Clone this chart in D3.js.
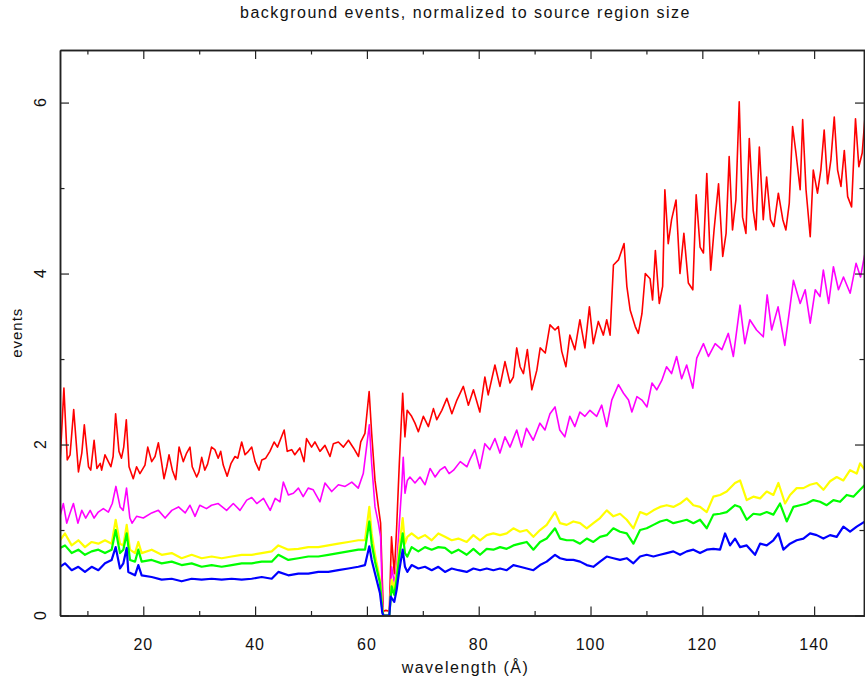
<!DOCTYPE html>
<html>
<head>
<meta charset="utf-8">
<script src="https://cdn.jsdelivr.net/npm/d3@7"></script>
<style>
	body { margin: 0; background: #fff; }
	text { font-family: "Liberation Sans", "DejaVu Sans", sans-serif; fill: #111; }
</style>
</head>
<body>
<div id="container"></div>
<script>
// values: [wavelength, events]
var redSeries = [[5.1,1.78],[5.8,2.66],[6.4,1.82],[6.9,1.88],[7.55,2.41],[8.4,1.68],[9.0,1.90],[9.45,2.23],[10.2,1.74],[10.6,1.70],[11.2,2.05],[11.7,1.72],[12.3,1.78],[12.55,1.70],[13.15,1.88],[13.75,1.80],[14.2,1.74],[14.6,1.86],[15.05,2.36],[15.65,1.92],[16.1,1.84],[16.5,1.97],[16.96,2.29],[17.45,1.74],[18.2,1.60],[18.8,1.74],[19.4,1.66],[20.3,1.76],[20.8,1.97],[21.5,1.80],[22.1,1.86],[22.7,2.02],[23.2,1.82],[23.7,1.60],[24.2,1.74],[24.6,1.88],[25.2,1.70],[25.8,1.59],[26.4,1.97],[27.15,1.80],[27.75,1.90],[28.35,1.97],[28.75,1.74],[29.55,1.62],[29.95,1.68],[30.45,1.85],[31.0,1.70],[31.5,1.77],[32.2,1.97],[32.8,1.94],[33.4,1.84],[33.85,1.92],[34.3,1.76],[35.0,1.63],[35.7,1.78],[36.4,1.86],[36.9,1.84],[37.6,2.03],[38.2,1.88],[38.8,1.92],[39.4,1.97],[40.0,1.80],[40.7,1.70],[41.2,1.82],[41.9,1.84],[42.65,1.92],[43.4,2.03],[44.0,1.97],[45.2,2.17],[45.75,1.92],[46.55,1.94],[47.1,1.88],[48.0,1.96],[48.75,1.80],[49.2,2.07],[50.1,1.97],[50.7,2.03],[51.6,1.92],[52.5,1.99],[53.4,1.86],[54.0,2.01],[54.9,2.03],[55.8,1.97],[56.7,2.05],[57.6,1.96],[58.5,1.86],[58.9,2.03],[59.65,2.13],[60.4,2.62],[60.85,2.13],[61.45,1.58],[62.05,1.27],[62.45,1.08],[62.75,0.42],[62.94,0.05],[63.4,0.06],[64.0,0.05],[64.4,0.92],[64.9,0.49],[65.3,1.0],[65.8,1.78],[66.4,2.60],[66.8,2.09],[67.2,2.40],[68.0,2.33],[68.6,2.25],[69.2,2.15],[70.1,2.33],[71.0,2.21],[71.9,2.42],[72.5,2.29],[73.4,2.40],[74.3,2.54],[75.2,2.36],[76.1,2.52],[77.25,2.68],[78.15,2.46],[79.05,2.64],[80.2,2.38],[81.1,2.79],[81.7,2.58],[82.9,2.93],[83.8,2.68],[84.7,2.97],[85.6,2.72],[86.2,2.79],[86.8,3.13],[87.4,2.91],[88.0,2.83],[88.7,3.11],[89.5,2.64],[90.4,2.87],[91.0,3.13],[91.9,3.07],[92.75,3.40],[93.65,3.34],[94.25,3.38],[94.85,3.09],[95.6,2.91],[96.3,3.28],[97.2,3.11],[98.1,3.46],[99.0,3.13],[99.8,3.61],[100.5,3.18],[101.4,3.44],[102.3,3.28],[102.9,3.46],[103.5,3.28],[104.1,4.10],[105.0,4.16],[106.0,4.35],[106.5,3.85],[107.1,3.57],[108.0,3.38],[108.55,3.30],[109.2,3.53],[109.8,4.00],[110.65,3.94],[111.1,3.69],[111.6,4.27],[112.3,3.65],[112.9,3.85],[113.3,4.98],[113.9,4.35],[114.5,4.63],[115.3,4.86],[116.0,4.00],[116.7,4.47],[117.5,3.89],[118.3,3.81],[118.9,4.92],[119.6,4.31],[120.2,4.24],[120.8,5.17],[121.5,4.04],[122.1,4.51],[122.9,5.05],[123.65,4.20],[124.25,4.47],[124.8,5.37],[125.4,4.51],[126.0,4.86],[126.6,6.01],[127.2,4.66],[127.8,4.47],[128.4,5.58],[129.1,4.74],[129.6,4.51],[130.2,5.48],[130.9,4.63],[131.5,5.13],[132.2,4.63],[132.8,4.55],[133.6,4.94],[134.4,4.63],[134.95,4.51],[135.55,4.82],[136.15,5.72],[136.75,5.41],[137.5,4.98],[137.95,5.80],[138.55,4.98],[139.3,4.43],[139.85,5.21],[140.6,4.94],[141.2,5.21],[141.8,5.68],[142.4,5.05],[143.0,5.33],[143.6,5.83],[144.2,5.21],[144.8,5.02],[145.4,5.44],[146.0,4.90],[146.7,4.78],[147.4,5.81],[148.0,5.25],[148.6,5.41],[149.1,5.83]];

var magentaSeries = [[5.1,1.16],[5.7,1.31],[6.3,1.08],[6.9,1.20],[7.5,1.31],[8.3,1.08],[9.0,1.23],[9.7,1.14],[10.5,1.23],[11.2,1.14],[11.95,1.21],[12.85,1.25],[13.75,1.21],[14.45,1.31],[15.1,1.51],[15.85,1.27],[16.4,1.23],[17.0,1.49],[17.6,1.14],[18.0,1.08],[18.8,1.16],[20.0,1.14],[21.5,1.20],[22.7,1.23],[23.9,1.14],[25.1,1.23],[26.3,1.27],[27.5,1.20],[28.35,1.29],[29.25,1.16],[30.1,1.29],[31.3,1.25],[32.2,1.29],[33.4,1.31],[34.9,1.23],[36.1,1.31],[37.3,1.23],[38.5,1.35],[39.4,1.38],[40.3,1.31],[41.5,1.37],[42.7,1.23],[43.6,1.37],[44.45,1.33],[45.05,1.56],[45.95,1.41],[46.85,1.43],[47.75,1.49],[48.6,1.39],[49.5,1.49],[50.4,1.47],[51.6,1.33],[52.5,1.55],[53.7,1.45],[54.9,1.53],[56.1,1.51],[57.3,1.56],[58.45,1.49],[59.35,1.66],[60.43,2.23],[60.85,1.78],[61.45,1.27],[62.05,1.08],[62.45,0.92],[62.76,0.22],[62.94,0],[64.01,0],[64.43,0.57],[64.9,0.38],[65.32,0.57],[65.8,1.08],[66.2,1.47],[66.5,1.85],[66.81,1.43],[67.23,1.58],[67.7,1.62],[68.6,1.55],[69.5,1.62],[70.4,1.53],[71.3,1.72],[72.2,1.62],[73.05,1.70],[73.95,1.74],[74.7,1.66],[75.5,1.70],[76.7,1.80],[77.9,1.74],[78.4,1.82],[79.3,1.94],[80.2,1.72],[81.1,2.01],[82.0,1.94],[82.9,2.07],[83.8,1.90],[84.7,2.09],[85.6,1.97],[86.8,2.17],[87.65,1.97],[88.55,2.19],[89.75,2.05],[90.95,2.25],[91.85,2.17],[92.75,2.36],[93.65,2.44],[94.5,2.17],[95.4,2.09],[96.3,2.33],[97.2,2.21],[98.1,2.38],[99.0,2.33],[99.9,2.40],[101.1,2.33],[102.0,2.46],[102.9,2.21],[103.8,2.52],[105.0,2.70],[105.9,2.60],[106.8,2.52],[107.4,2.38],[108.3,2.56],[109.2,2.52],[110.1,2.44],[111.0,2.72],[111.85,2.64],[112.75,2.75],[113.6,2.91],[114.5,2.83],[115.4,3.03],[116.3,2.77],[117.2,2.93],[118.3,2.66],[119.0,3.01],[120.2,3.18],[121.1,3.03],[122.3,3.18],[123.5,3.11],[124.65,3.30],[125.55,3.03],[126.75,3.63],[127.6,3.18],[128.5,3.46],[129.7,3.34],[130.9,3.26],[131.6,3.75],[132.4,3.34],[133.55,3.61],[134.75,3.16],[135.6,3.57],[136.3,3.92],[137.5,3.65],[138.4,3.81],[139.3,3.42],[140.2,3.81],[141.05,3.73],[141.65,4.04],[142.6,3.65],[143.45,4.08],[144.35,3.81],[145.25,3.96],[146.45,3.77],[147.5,4.12],[148.3,3.96],[149.1,4.24]];

var yellowSeries = [[5.1,0.88],[5.99,0.96],[7.19,0.82],[8.38,0.88],[9.57,0.80],[10.76,0.86],[11.96,0.84],[13.15,0.88],[14.34,0.84],[15.06,1.12],[15.83,0.84],[16.43,0.82],[17.03,1.06],[17.62,0.77],[18.52,0.73],[19.11,0.86],[19.71,0.73],[21.5,0.77],[23.29,0.71],[25.08,0.73],[26.86,0.67],[28.65,0.71],[30.44,0.67],[32.23,0.69],[34.02,0.67],[35.81,0.69],[37.6,0.71],[39.39,0.71],[41.18,0.73],[42.97,0.75],[44.16,0.82],[45.95,0.77],[47.74,0.78],[49.52,0.80],[51.31,0.80],[53.1,0.82],[54.89,0.84],[56.68,0.86],[58.47,0.88],[59.66,0.88],[60.43,1.27],[60.85,0.96],[61.45,0.71],[62.34,0.42],[62.76,0.10],[62.94,0],[64.01,0],[64.43,0.42],[64.9,0.32],[65.32,0.49],[65.8,0.80],[66.4,1.14],[66.81,0.84],[67.23,0.92],[68.0,0.96],[69.2,0.90],[70.39,0.94],[71.59,0.88],[72.78,0.96],[73.97,0.92],[75.17,0.88],[76.36,0.90],[77.85,0.86],[79.05,0.94],[80.24,0.88],[81.43,0.94],[82.62,0.96],[83.82,0.94],[85.01,0.96],[86.2,1.02],[87.39,0.98],[88.59,1.00],[89.78,0.92],[90.97,1.00],[92.16,1.06],[93.65,1.21],[94.55,1.08],[95.74,1.06],[96.93,1.10],[98.13,1.08],[99.32,1.02],[100.51,1.08],[101.7,1.14],[102.9,1.23],[104.09,1.16],[105.28,1.19],[106.48,1.12],[107.67,1.02],[108.86,1.21],[110.05,1.18],[111.25,1.23],[112.44,1.27],[113.63,1.29],[114.82,1.27],[116.02,1.31],[117.21,1.37],[118.4,1.29],[119.59,1.27],[120.79,1.21],[121.98,1.39],[123.17,1.41],[124.36,1.45],[125.85,1.55],[126.75,1.58],[127.94,1.35],[129.13,1.39],[130.33,1.37],[131.52,1.45],[132.71,1.41],[133.61,1.55],[134.8,1.31],[135.69,1.41],[136.88,1.49],[138.08,1.49],[139.27,1.53],[140.46,1.55],[141.66,1.47],[142.85,1.57],[144.04,1.62],[145.23,1.58],[146.43,1.70],[147.62,1.66],[148.22,1.78],[149.11,1.70]];

var greenSeries = [[5.1,0.79],[5.99,0.82],[7.19,0.73],[8.38,0.77],[9.57,0.71],[10.76,0.75],[11.96,0.77],[13.15,0.73],[14.34,0.77],[15.06,1.00],[15.83,0.73],[16.43,0.77],[17.03,0.96],[17.62,0.65],[18.52,0.63],[19.11,0.77],[19.71,0.63],[21.5,0.65],[23.29,0.61],[25.08,0.63],[26.86,0.59],[28.65,0.61],[30.44,0.57],[32.23,0.59],[34.02,0.57],[35.81,0.59],[37.6,0.61],[39.39,0.61],[41.18,0.63],[42.97,0.63],[44.16,0.71],[45.95,0.65],[47.74,0.67],[49.52,0.69],[51.31,0.69],[53.1,0.71],[54.89,0.73],[56.68,0.75],[58.47,0.77],[59.66,0.77],[60.43,1.10],[60.85,0.84],[61.45,0.63],[62.34,0.38],[62.76,0.06],[62.94,0],[64.01,0],[64.43,0.34],[64.9,0.24],[65.32,0.42],[65.8,0.69],[66.4,0.96],[66.81,0.73],[67.23,0.69],[68.0,0.80],[69.2,0.75],[70.39,0.80],[71.59,0.77],[72.78,0.80],[73.97,0.79],[75.17,0.73],[76.36,0.77],[77.85,0.71],[79.05,0.78],[80.24,0.71],[81.43,0.78],[82.62,0.77],[83.82,0.80],[85.01,0.78],[86.2,0.82],[87.39,0.84],[88.59,0.86],[89.78,0.77],[90.97,0.86],[92.16,0.90],[93.65,1.02],[94.55,0.90],[95.74,0.88],[96.93,0.88],[98.13,0.84],[99.32,0.90],[100.51,0.86],[101.7,0.92],[102.9,0.94],[104.09,1.02],[105.28,0.98],[106.48,0.96],[107.67,0.84],[108.86,1.00],[110.05,1.02],[111.25,1.06],[112.44,1.10],[113.63,1.12],[114.82,1.08],[116.02,1.10],[117.21,1.12],[118.4,1.08],[119.59,1.12],[120.79,1.02],[121.98,1.18],[123.17,1.19],[124.36,1.21],[125.85,1.29],[126.75,1.27],[127.94,1.12],[129.13,1.19],[130.33,1.18],[131.52,1.21],[132.71,1.18],[133.9,1.31],[135.1,1.10],[136.29,1.27],[137.48,1.29],[138.67,1.31],[139.87,1.35],[141.06,1.33],[142.25,1.29],[143.45,1.35],[144.64,1.33],[145.83,1.41],[147.02,1.39],[148.22,1.47],[149.11,1.53]];

var blueSeries = [[5.1,0.57],[5.99,0.61],[7.19,0.53],[8.38,0.57],[9.57,0.51],[10.76,0.57],[11.96,0.53],[13.15,0.61],[14.34,0.65],[15.06,0.80],[15.83,0.55],[16.43,0.61],[17.03,0.79],[17.32,0.51],[18.52,0.47],[19.11,0.59],[19.71,0.47],[21.5,0.45],[23.29,0.42],[25.08,0.43],[26.86,0.40],[28.65,0.43],[30.44,0.42],[32.23,0.43],[34.02,0.42],[35.81,0.43],[37.6,0.42],[39.39,0.43],[41.18,0.45],[42.97,0.43],[44.16,0.51],[45.95,0.47],[47.74,0.49],[49.52,0.49],[51.31,0.51],[53.1,0.51],[54.89,0.53],[56.68,0.55],[58.47,0.57],[59.66,0.59],[60.43,0.81],[60.85,0.65],[61.45,0.49],[62.34,0.26],[62.76,0.03],[62.94,0],[64.01,0],[64.25,0.22],[64.9,0.16],[65.32,0.30],[65.8,0.53],[66.4,0.77],[66.81,0.57],[67.23,0.51],[68.0,0.59],[69.2,0.55],[70.39,0.57],[71.59,0.53],[72.78,0.57],[73.97,0.51],[75.17,0.55],[76.36,0.53],[77.85,0.51],[79.05,0.55],[80.24,0.53],[81.43,0.55],[82.62,0.53],[83.82,0.55],[85.01,0.53],[86.2,0.59],[87.39,0.57],[88.59,0.55],[89.78,0.53],[90.97,0.59],[92.16,0.63],[93.65,0.71],[94.55,0.67],[95.74,0.65],[96.93,0.65],[98.13,0.63],[99.32,0.59],[100.51,0.57],[101.7,0.63],[102.9,0.69],[104.09,0.67],[105.28,0.65],[106.48,0.67],[107.67,0.61],[108.86,0.69],[110.05,0.71],[111.25,0.69],[112.44,0.71],[113.63,0.73],[114.82,0.75],[116.02,0.71],[117.21,0.75],[118.4,0.77],[119.59,0.73],[120.79,0.77],[121.98,0.78],[123.17,0.77],[124.07,0.96],[124.96,0.82],[125.85,0.90],[126.75,0.80],[127.94,0.82],[129.43,0.71],[130.33,0.84],[131.52,0.82],[132.71,0.88],[133.61,0.96],[134.5,0.77],[135.69,0.84],[136.88,0.88],[138.08,0.90],[139.27,0.96],[140.46,0.94],[141.66,0.90],[142.85,0.94],[144.04,0.92],[145.23,1.04],[146.43,0.98],[147.62,1.04],[149.11,1.10]];

var xTickLabels = [20, 40, 60, 80, 100, 120, 140];
var yTickLabels = [0, 2, 4, 6];
var seriesColors = ["#ff0000", "#ff00ff", "#ffff00", "#00ff00", "#0000ff"];

(function()
{
	var width = 865, height = 678;
	var left = 60, right = 865, top = 50, bottom = 615.5;

	var svg = d3.select("#container").append("svg")
		.attr("width", width)
		.attr("height", height);

	var x = d3.scaleLinear().domain([5.1, 149.1]).range([left, right]);
	var y = d3.scaleLinear().domain([0, 6.615]).range([bottom, top]);

	// clip for the curves
	svg.append("clipPath").attr("id", "plotclip")
		.append("rect")
		.attr("x", left).attr("y", top)
		.attr("width", right - left).attr("height", bottom - top);

	// curves, red first so blue ends on top
	var line = d3.line()
		.x(function(d){ return x(d[0]); })
		.y(function(d){ return y(d[1]); });
	var allSeries = [redSeries, magentaSeries, yellowSeries, greenSeries, blueSeries];
	var widths = [1.6, 1.6, 2.2, 2.2, 2.2];
	var curves = svg.append("g").attr("clip-path", "url(#plotclip)");
	for (var i = 0; i < allSeries.length; i++)
	{
		curves.append("path")
			.datum(allSeries[i])
			.attr("d", line)
			.attr("fill", "none")
			.attr("stroke", seriesColors[i])
			.attr("stroke-width", widths[i])
			.attr("stroke-linejoin", "round");
	}

	// frame with inward ticks on all four sides
	var frameColor = "#222";
	var xMajor = d3.range(20, 150, 20), xMinor = d3.range(10, 150, 20);
	var yMajor = d3.range(0, 7, 2), yMinor = d3.range(1, 7, 2);

	function addAxis(axis, tx, ty)
	{
		svg.append("g").attr("transform", "translate(" + tx + "," + ty + ")").call(axis);
	}
	addAxis(d3.axisBottom(x).tickValues(xMajor).tickSizeInner(-9).tickSizeOuter(0).tickFormat(""), 0, bottom);
	addAxis(d3.axisTop(x).tickValues(xMajor).tickSizeInner(-9).tickSizeOuter(0).tickFormat(""), 0, top);
	addAxis(d3.axisLeft(y).tickValues(yMajor).tickSizeInner(-9).tickSizeOuter(0).tickFormat(""), left, 0);
	addAxis(d3.axisRight(y).tickValues(yMajor).tickSizeInner(-9).tickSizeOuter(0).tickFormat(""), right - 1, 0);

	// minor ticks
	addAxis(d3.axisBottom(x).tickValues(xMinor).tickSizeInner(-4.5).tickSizeOuter(0).tickFormat(""), 0, bottom);
	addAxis(d3.axisTop(x).tickValues(xMinor).tickSizeInner(-4.5).tickSizeOuter(0).tickFormat(""), 0, top);
	addAxis(d3.axisLeft(y).tickValues(yMinor).tickSizeInner(-4.5).tickSizeOuter(0).tickFormat(""), left, 0);
	addAxis(d3.axisRight(y).tickValues(yMinor).tickSizeInner(-4.5).tickSizeOuter(0).tickFormat(""), right - 1, 0);

	svg.selectAll(".domain").attr("stroke", frameColor).attr("stroke-width", 1.5);
	svg.selectAll(".tick line").attr("stroke", frameColor).attr("stroke-width", 1.2);

	// tick labels
	svg.selectAll(".xlabel")
		.data(xTickLabels)
		.enter().append("text")
		.attr("x", function(d){ return x(d); })
		.attr("y", 650)
		.attr("text-anchor", "middle")
		.style("font-size", "16px")
		.style("letter-spacing", "1px")
		.text(function(d){ return d; });

	svg.selectAll(".ylabel")
		.data(yTickLabels)
		.enter().append("text")
		.attr("transform", function(d){ return "translate(46," + y(d) + ") rotate(-90)"; })
		.attr("text-anchor", "middle")
		.style("font-size", "16px")
		.text(function(d){ return d; });

	// titles
	svg.append("text")
		.attr("x", (left + right) / 2 + 3)
		.attr("y", 18)
		.attr("text-anchor", "middle")
		.style("font-size", "16px")
		.style("letter-spacing", "1.5px")
		.text("background events, normalized to source region size");

	svg.append("text")
		.attr("x", (left + right) / 2 + 3)
		.attr("y", 673)
		.attr("text-anchor", "middle")
		.style("font-size", "16px")
		.style("letter-spacing", "1.5px")
		.text("wavelength (Å)");

	svg.append("text")
		.attr("transform", "translate(22," + ((top + bottom) / 2) + ") rotate(-90)")
		.attr("text-anchor", "middle")
		.style("font-size", "15px")
		.style("letter-spacing", "1px")
		.text("events");
})();
</script>
</body>
</html>
